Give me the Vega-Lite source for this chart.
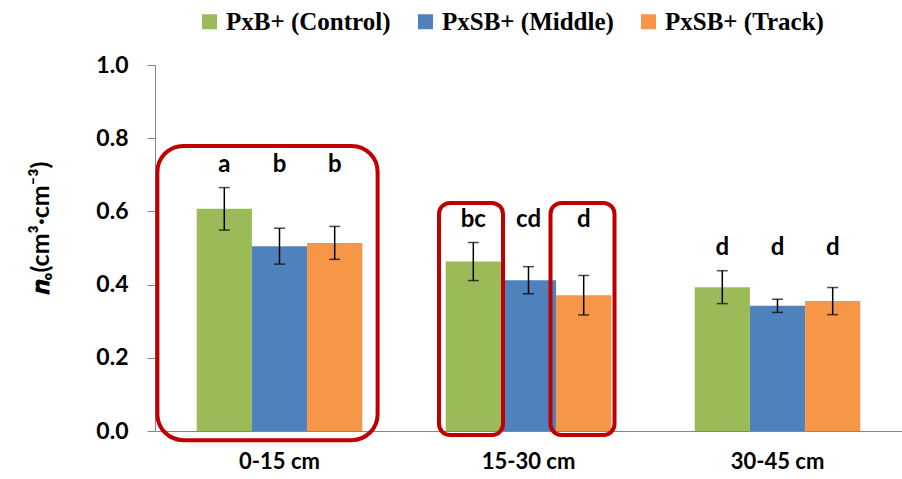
{
  "$schema": "https://vega.github.io/schema/vega-lite/v6.json",
  "width": 747,
  "height": 366,
  "autosize": {"type": "none"},
  "padding": {"left": 155, "top": 65, "right": 0, "bottom": 48},
  "background": "white",
  "datasets": {
    "bars": [
      {"depth": "0-15 cm", "treatment": "PxB+ (Control)", "mean": 0.607, "err": 0.058, "letter": "a"},
      {"depth": "0-15 cm", "treatment": "PxSB+ (Middle)", "mean": 0.505, "err": 0.049, "letter": "b"},
      {"depth": "0-15 cm", "treatment": "PxSB+ (Track)", "mean": 0.514, "err": 0.045, "letter": "b"},
      {"depth": "15-30 cm", "treatment": "PxB+ (Control)", "mean": 0.463, "err": 0.052, "letter": "bc"},
      {"depth": "15-30 cm", "treatment": "PxSB+ (Middle)", "mean": 0.412, "err": 0.037, "letter": "cd"},
      {"depth": "15-30 cm", "treatment": "PxSB+ (Track)", "mean": 0.371, "err": 0.054, "letter": "d"},
      {"depth": "30-45 cm", "treatment": "PxB+ (Control)", "mean": 0.393, "err": 0.045, "letter": "d"},
      {"depth": "30-45 cm", "treatment": "PxSB+ (Middle)", "mean": 0.342, "err": 0.018, "letter": "d"},
      {"depth": "30-45 cm", "treatment": "PxSB+ (Track)", "mean": 0.355, "err": 0.037, "letter": "d"}
    ],
    "boxGroup": [
      {"depth": "0-15 cm", "lo": -0.025, "hi": 0.779}
    ],
    "boxControl": [
      {"depth": "15-30 cm", "treatment": "PxB+ (Control)", "lo": -0.011, "hi": 0.623}
    ],
    "boxTrack": [
      {"depth": "15-30 cm", "treatment": "PxSB+ (Track)", "lo": -0.011, "hi": 0.623}
    ]
  },
  "encoding": {
    "x": {
      "field": "depth",
      "type": "nominal",
      "sort": ["0-15 cm", "15-30 cm", "30-45 cm"],
      "scale": {"domain": ["0-15 cm", "15-30 cm", "30-45 cm"], "paddingInner": 0.335, "paddingOuter": 0.1675},
      "title": null,
      "axis": {"labelAngle": 0, "ticks": false, "labelPadding": 20, "labelFontSize": 22}
    }
  },
  "layer": [
    {
      "data": {"name": "bars"},
      "mark": {"type": "bar"},
      "encoding": {
        "xOffset": {"field": "treatment", "type": "nominal", "scale": {"domain": ["PxB+ (Control)", "PxSB+ (Middle)", "PxSB+ (Track)"], "paddingInner": 0, "paddingOuter": 0}},
        "y": {
          "field": "mean",
          "type": "quantitative",
          "scale": {"domain": [0, 1], "nice": false},
          "title": "𝒏ₒ(cm³·cm⁻³)",
          "axis": {"values": [0, 0.2, 0.4, 0.6, 0.8, 1.0], "format": ".1f", "labelFontSize": 23, "tickSize": 8, "labelPadding": 19, "titleFontSize": 25, "titlePadding": 42, "titleY": 163}
        },
        "color": {
          "field": "treatment",
          "type": "nominal",
          "scale": {"domain": ["PxB+ (Control)", "PxSB+ (Middle)", "PxSB+ (Track)"], "range": ["#9BBB59", "#4F81BD", "#F79646"]},
          "legend": {"title": null, "orient": "none", "direction": "horizontal", "legendX": 42, "legendY": -56}
        }
      }
    },
    {
      "data": {"name": "bars"},
      "transform": [
        {"calculate": "datum.mean + datum.err", "as": "hi"},
        {"calculate": "datum.mean - datum.err", "as": "lo"}
      ],
      "mark": {"type": "rule", "color": "black", "strokeWidth": 1.5},
      "encoding": {
        "xOffset": {"field": "treatment", "type": "nominal"},
        "y": {"field": "lo", "type": "quantitative", "title": "𝒏ₒ(cm³·cm⁻³)"},
        "y2": {"field": "hi"}
      }
    },
    {
      "data": {"name": "bars"},
      "transform": [
        {"calculate": "datum.mean + datum.err", "as": "hi"},
        {"calculate": "datum.mean - datum.err", "as": "lo"},
        {"fold": ["hi", "lo"], "as": ["end", "val"]}
      ],
      "mark": {"type": "tick", "color": "black", "thickness": 1.5, "size": 11, "orient": "horizontal"},
      "encoding": {
        "xOffset": {"field": "treatment", "type": "nominal"},
        "y": {"field": "val", "type": "quantitative", "title": "𝒏ₒ(cm³·cm⁻³)"}
      }
    },
    {
      "data": {"name": "bars"},
      "transform": [
        {"calculate": "datum.mean + datum.err", "as": "hi"},
        {"joinaggregate": [{"op": "max", "field": "hi", "as": "grouptop"}], "groupby": ["depth"]}
      ],
      "mark": {"type": "text", "font": "Lato", "fontWeight": "bold", "fontSize": 24, "baseline": "alphabetic", "dy": -16, "color": "black"},
      "encoding": {
        "xOffset": {"field": "treatment", "type": "nominal"},
        "y": {"field": "grouptop", "type": "quantitative", "title": "𝒏ₒ(cm³·cm⁻³)"},
        "text": {"field": "letter"}
      }
    },
    {
      "data": {"name": "boxGroup"},
      "mark": {"type": "bar", "filled": false, "color": "#C00000", "strokeWidth": 4, "cornerRadius": 26, "width": {"band": 1.33}, "xOffset": -12},
      "encoding": {
        "y": {"field": "lo", "type": "quantitative", "title": "𝒏ₒ(cm³·cm⁻³)"},
        "y2": {"field": "hi"}
      }
    },
    {
      "data": {"name": "boxControl"},
      "mark": {"type": "bar", "filled": false, "color": "#C00000", "strokeWidth": 4, "cornerRadius": 11, "width": {"band": 0.3865}, "xOffset": -57.5},
      "encoding": {
        "y": {"field": "lo", "type": "quantitative", "title": "𝒏ₒ(cm³·cm⁻³)"},
        "y2": {"field": "hi"}
      }
    },
    {
      "data": {"name": "boxTrack"},
      "mark": {"type": "bar", "filled": false, "color": "#C00000", "strokeWidth": 4, "cornerRadius": 11, "width": {"band": 0.3865}, "xOffset": 54},
      "encoding": {
        "y": {"field": "lo", "type": "quantitative", "title": "𝒏ₒ(cm³·cm⁻³)"},
        "y2": {"field": "hi"}
      }
    }
  ],
  "config": {
    "view": {"stroke": null},
    "axis": {
      "labelFont": "Lato",
      "labelFontWeight": "bold",
      "labelColor": "black",
      "titleFont": "Lato",
      "titleFontWeight": "bold",
      "titleColor": "black",
      "domainColor": "#868686",
      "tickColor": "#868686",
      "grid": false
    },
    "legend": {
      "labelFont": "Liberation Serif",
      "labelFontWeight": "bold",
      "labelFontSize": 25,
      "labelLimit": 0,
      "labelColor": "black",
      "symbolType": "square",
      "symbolSize": 225,
      "symbolStrokeWidth": 0,
      "columnPadding": 22,
      "labelOffset": 4
    }
  }
}
